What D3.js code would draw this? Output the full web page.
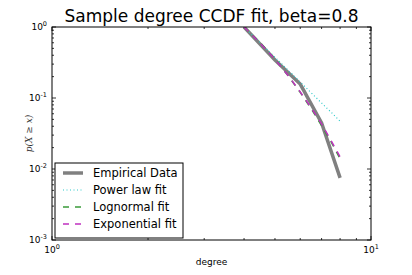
<!DOCTYPE html>
<html>
<head>
<meta charset="utf-8">
<script src="https://cdn.jsdelivr.net/npm/d3@7"></script>
<style>
  body { margin: 0; background: #fff; }
  svg { display: block; font-family: "DejaVu Sans", sans-serif; }
</style>
</head>
<body>
<svg id="chart" width="412" height="275"></svg>
<script>
// values
const degrees = [4, 5, 6, 7, 8];
const empirical = [1.0, 0.343, 0.157, 0.0445, 0.0075];

// fitted curves, read at half-degree steps
const fitDegrees = [4, 4.5, 5, 5.5, 6, 6.5, 7, 7.5, 8];
const powerLaw = [1.0, 0.596, 0.375, 0.246, 0.168, 0.118, 0.085, 0.063, 0.047];
const lognormal = [1.0, 0.6, 0.355, 0.205, 0.12, 0.07, 0.041, 0.024, 0.014];
const exponential = [1.0, 0.59, 0.35, 0.207, 0.122, 0.072, 0.043, 0.025, 0.0148];

const xTicks = [1, 10];
const yTicks = [1e-3, 1e-2, 1e-1, 1];
const xTickLabels = ["0", "1"];
const yTickLabels = ["-3", "-2", "-1", "0"];

const series = [
    { name: "Empirical Data", xs: degrees, values: empirical, color: "#808080", width: 3.5, dash: null },
    { name: "Power law fit", xs: fitDegrees, values: powerLaw, color: "#2cc9c9", width: 1.2, dash: "1,2.5" },
    { name: "Lognormal fit", xs: fitDegrees, values: lognormal, color: "#3a9a3a", width: 1.5, dash: "6,6" },
    { name: "Exponential fit", xs: fitDegrees, values: exponential, color: "#c030c0", width: 1.5, dash: "6,6" }
];

const svg = d3.select("#chart");
const margin = { top: 27, right: 41, bottom: 35, left: 52 };
const width = 412 - margin.left - margin.right;
const height = 275 - margin.top - margin.bottom;

const x = d3.scaleLog().domain([1, 10]).range([0, width]);
const y = d3.scaleLog().domain([1e-3, 1]).range([height, 0]);

const g = svg.append("g").attr("transform", `translate(${margin.left},${margin.top})`);

g.append("clipPath").attr("id", "clip")
    .append("rect").attr("width", width).attr("height", height);

// minor/major ticks on all four sides, pointing inward
const xMinor = d3.range(2, 10);
const yMinor = [];
[1e-3, 1e-2, 1e-1].forEach(d => d3.range(2, 10).forEach(k => yMinor.push(d * k)));

function tickLines(vals, len, side) {
    vals.forEach(v => {
        if (side === "bottom") g.append("line").attr("x1", x(v)).attr("x2", x(v)).attr("y1", height).attr("y2", height - len);
        if (side === "top") g.append("line").attr("x1", x(v)).attr("x2", x(v)).attr("y1", 0).attr("y2", len);
        if (side === "left") g.append("line").attr("y1", y(v)).attr("y2", y(v)).attr("x1", 0).attr("x2", len);
        if (side === "right") g.append("line").attr("y1", y(v)).attr("y2", y(v)).attr("x1", width).attr("x2", width - len);
    });
}

["bottom", "top"].forEach(s => { tickLines(xTicks, 4, s); tickLines(xMinor, 2, s); });
["left", "right"].forEach(s => { tickLines(yTicks, 4, s); tickLines(yMinor, 2, s); });
g.selectAll("line").attr("stroke", "#000").attr("stroke-width", 0.8);

// lines
const plot = g.append("g").attr("clip-path", "url(#clip)");
series.forEach(s => {
    const line = d3.line()
        .x((d, i) => x(s.xs[i]))
        .y(d => y(d));
    plot.append("path")
        .datum(s.values)
        .attr("fill", "none")
        .attr("stroke", s.color)
        .attr("stroke-width", s.width)
        .attr("stroke-dasharray", s.dash)
        .attr("d", line);
});

// frame
g.append("rect")
    .attr("width", width).attr("height", height)
    .attr("fill", "none").attr("stroke", "#000").attr("stroke-width", 1);

// tick labels
xTicks.forEach((v, i) => {
    const t = g.append("text")
        .attr("x", x(v)).attr("y", height + 13)
        .attr("text-anchor", "middle")
        .style("font-size", "9px");
    t.append("tspan").text("10");
    t.append("tspan").attr("dy", -4).style("font-size", "6.5px").text(xTickLabels[i]);
});

yTicks.forEach((v, i) => {
    const t = g.append("text")
        .attr("x", -5).attr("y", y(v) + 3)
        .attr("text-anchor", "end")
        .style("font-size", "9px");
    t.append("tspan").text("10");
    t.append("tspan").attr("dy", -4).style("font-size", "6.5px").text(yTickLabels[i]);
});

// title and axis labels
svg.append("text")
    .attr("x", margin.left + width / 2).attr("y", 22)
    .attr("text-anchor", "middle")
    .style("font-size", "17px")
    .text("Sample degree CCDF fit, beta=0.8");

svg.append("text")
    .attr("x", margin.left + width / 2).attr("y", 265)
    .attr("text-anchor", "middle")
    .style("font-size", "9px")
    .text("degree");

svg.append("text")
    .attr("transform", `translate(32,${margin.top + height / 2}) rotate(-90)`)
    .attr("text-anchor", "middle")
    .style("font-family", "'DejaVu Serif', serif")
    .style("font-style", "italic")
    .style("font-size", "9px")
    .attr("fill", "#333")
    .text("p(X \u2265 x)");

// legend
const legend = g.append("g").attr("transform", `translate(3,${height - 77})`);
legend.append("rect")
    .attr("width", 128).attr("height", 75)
    .attr("fill", "#fff").attr("stroke", "#000").attr("stroke-width", 1);

series.forEach((s, i) => {
    const row = legend.append("g").attr("transform", `translate(0,${10 + i * 17})`);
    row.append("line")
        .attr("x1", 8).attr("x2", 28)
        .attr("stroke", s.color)
        .attr("stroke-width", s.width)
        .attr("stroke-dasharray", s.dash);
    row.append("text")
        .attr("x", 38).attr("y", 4)
        .style("font-size", "11.5px")
        .text(s.name);
});
</script>
</body>
</html>
